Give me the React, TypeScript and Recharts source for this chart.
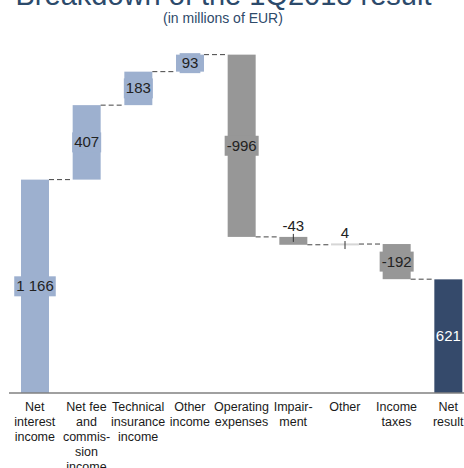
import React from 'react';
import { ComposedChart, Bar, XAxis, YAxis } from 'recharts';

const title = 'Breakdown of the 1Q2018 result';
const subtitle = '(in millions of EUR)';
const categories = [
  'Net interest income',
  'Net fee and commission income',
  'Technical insurance income',
  'Other income',
  'Operating expenses',
  'Impairment',
  'Other',
  'Income taxes',
  'Net result',
];
const tickLines = [
  ['Net', 'interest', 'income'],
  ['Net fee', 'and', 'commis-', 'sion', 'income'],
  ['Technical', 'insurance', 'income'],
  ['Other', 'income'],
  ['Operating', 'expenses'],
  ['Impair-', 'ment'],
  ['Other'],
  ['Income', 'taxes'],
  ['Net', 'result'],
];
const values = [1166, 407, 183, 93, -996, -43, 4, -192, 621];
const kinds = ['up', 'up', 'up', 'up', 'down', 'down', 'neutral', 'down', 'total'];

const COLORS: Record<string, string> = {
  up: '#9DB0CF',
  down: '#979797',
  neutral: '#D6D6D6',
  total: '#354A6B',
};

const CHART_W = 480;
const MARGIN_L = 9;
const MARGIN_R = 6;
const BAR_SIZE = 28;
const BAND = (CHART_W - MARGIN_L - MARGIN_R) / categories.length;
const GAP = BAND - BAR_SIZE;
const FONT = '"Liberation Sans", Arial, sans-serif';

let cum = 0;
const data = categories.map((name, i) => {
  const v = values[i];
  let start: number;
  let end: number;
  if (kinds[i] === 'total') {
    start = 0;
    end = v;
  } else {
    start = cum;
    end = cum + v;
    cum = end;
  }
  return {
    name,
    idx: i,
    value: v,
    kind: kinds[i],
    range: [Math.min(start, end), Math.max(start, end)],
  };
});

const fmt = (v: number) => {
  const s = Math.abs(v).toString().replace(/\B(?=(\d{3})+(?!\d))/g, ' ');
  return (v < 0 ? '-' : '') + s;
};

const textWidth = (s: string, size: number) => {
  let w = 0;
  for (const c of s) {
    if (c === '-') w += 0.333;
    else if (c === ' ') w += 0.278;
    else w += 0.556;
  }
  return w * size;
};

const WaterfallShape = (props: any) => {
  const { x, y, width, height, payload } = props;
  const i = payload.idx;
  const v = payload.value;
  const kind = payload.kind;
  const color = COLORS[kind];
  const top = Math.min(y, y + height);
  let h = Math.abs(height);
  const drawH = Math.max(h, 2);
  const drawTop = h < 2 ? top - (2 - h) / 2 : top;
  const endY = v >= 0 ? top : top + h;
  const isLast = i === categories.length - 1;
  const label = fmt(v);
  const fs = 15;
  const cx = x + width / 2;
  const small = Math.abs(v) < 60;
  const tw = textWidth(label, fs);
  return (
    <g>
      <rect x={x} y={drawTop} width={width} height={drawH} fill={color} />
      {!isLast && (
        <line
          x1={x + width}
          x2={x + width + GAP}
          y1={endY}
          y2={endY}
          stroke="#444"
          strokeWidth={1}
          strokeDasharray="5 3"
        />
      )}
      {small ? (
        <g>
          <line x1={cx} x2={cx} y1={top - 3} y2={top + 5} stroke="#333" strokeWidth={1} />
          <text x={cx} y={top - 6} textAnchor="middle" fontSize={fs} fontFamily={FONT} fill="#222">
            {label}
          </text>
        </g>
      ) : (
        <g>
          {kind !== 'total' && (
            <rect x={cx - tw / 2 - 2} y={top + h / 2 - 10} width={tw + 4} height={20} fill={color} />
          )}
          <text
            x={cx}
            y={top + h / 2 + 5}
            textAnchor="middle"
            fontSize={fs}
            fontFamily={FONT}
            fill={kind === 'total' ? '#ffffff' : '#222'}
          >
            {label}
          </text>
        </g>
      )}
    </g>
  );
};

const Tick = (props: any) => {
  const { x, y, index } = props;
  const lines = tickLines[index] || [];
  return (
    <g>
      {lines.map((l, k) => (
        <text
          key={k}
          x={x}
          y={y + 10 + k * 15}
          textAnchor="middle"
          fontSize={12.5}
          fontFamily={FONT}
          fill="#1a1a1a"
        >
          {l}
        </text>
      ))}
    </g>
  );
};

export default function App() {
  return (
    <div
      style={{
        position: 'absolute',
        left: 0,
        top: 0,
        width: 464,
        height: 468,
        overflow: 'hidden',
        background: '#fff',
      }}
    >
      <ComposedChart
        width={CHART_W}
        height={468}
        data={data}
        margin={{ top: 27, right: MARGIN_R, bottom: 0, left: MARGIN_L }}
      >
        <XAxis
          dataKey="name"
          interval={0}
          tickLine={false}
          axisLine={{ stroke: '#808080', strokeWidth: 1.5 }}
          height={75}
          tick={<Tick />}
        />
        <YAxis hide domain={[0, 2000]} />
        <Bar
          dataKey="range"
          barSize={BAR_SIZE}
          isAnimationActive={false}
          shape={<WaterfallShape />}
        />
      </ComposedChart>
      <svg
        width={464}
        height={40}
        style={{ position: 'absolute', left: 0, top: 0, pointerEvents: 'none' }}
      >
        <text x={223.5} y={5} textAnchor="middle" fontSize={29} fontFamily={FONT} fill="#2C4A6B">
          {title}
        </text>
        <text x={223} y={23} textAnchor="middle" fontSize={14} fontFamily={FONT} fill="#2E4A6A">
          {subtitle}
        </text>
      </svg>
    </div>
  );
}
